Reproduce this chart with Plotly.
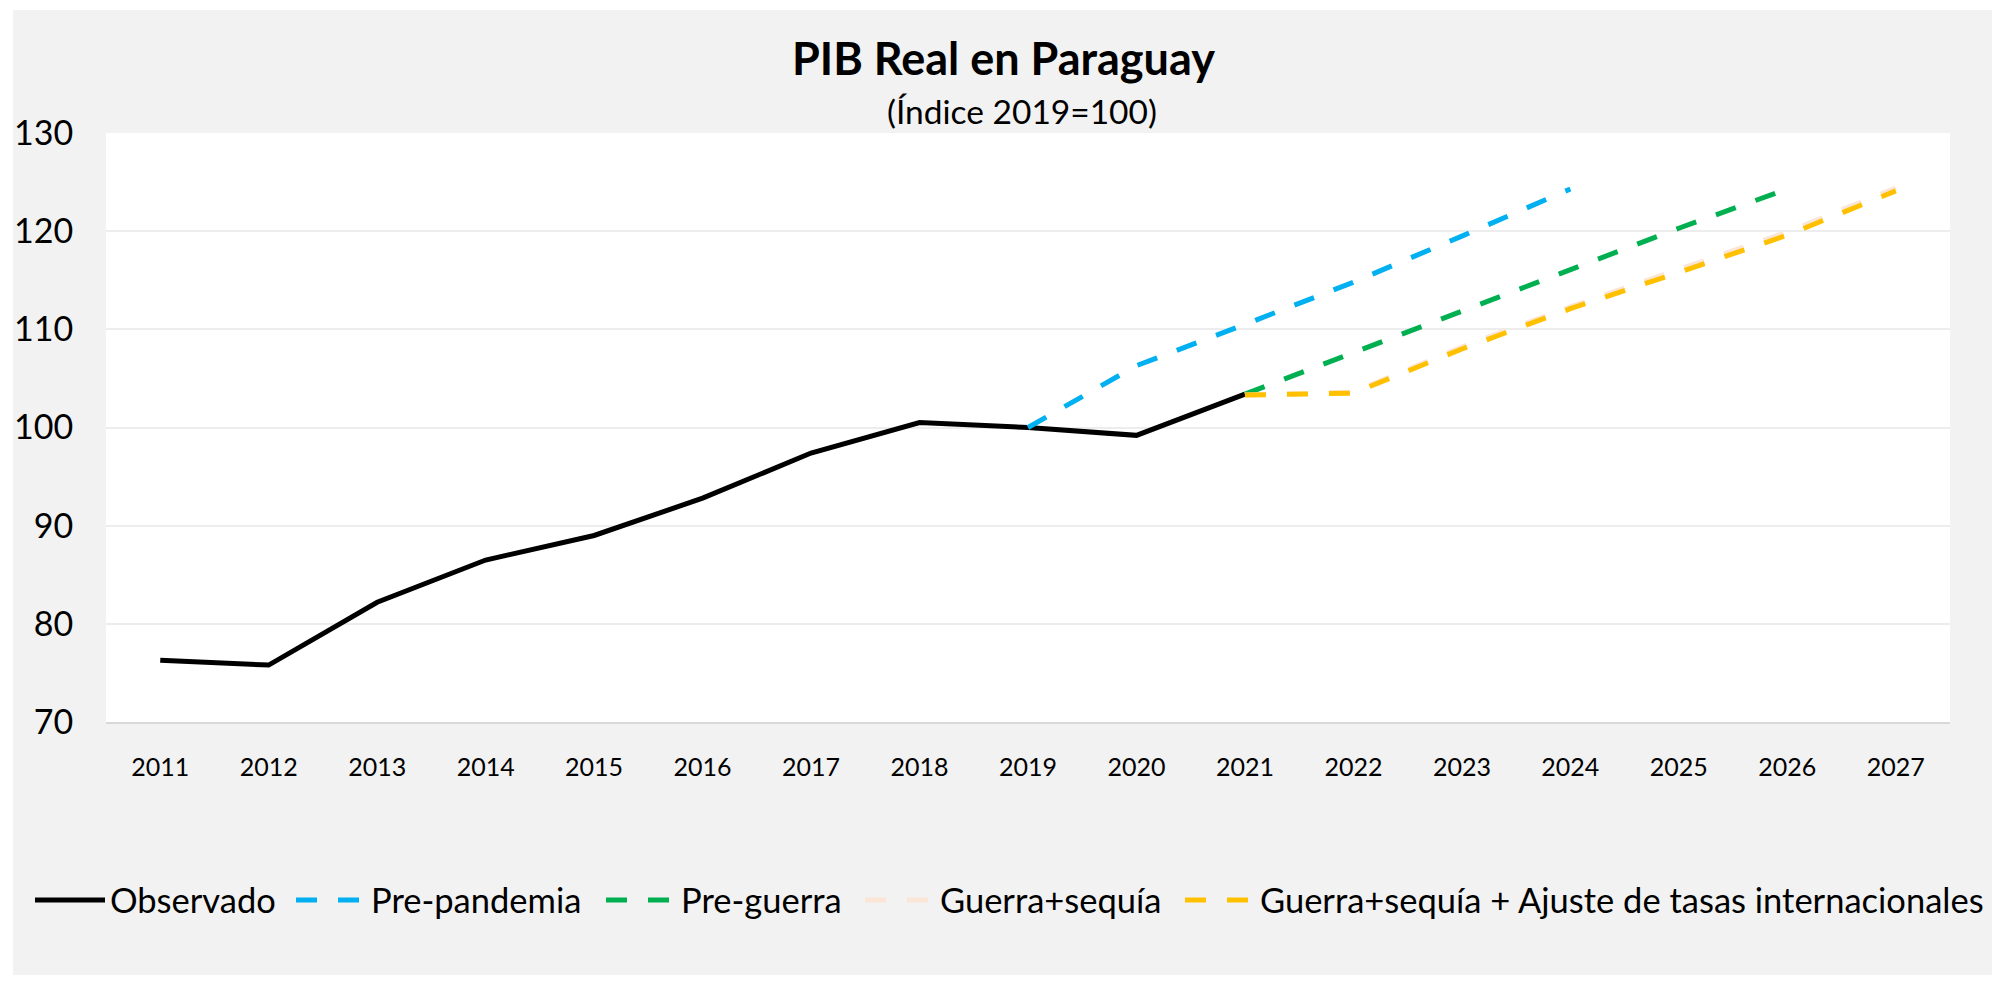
import plotly.graph_objects as go

years = ["2011", "2012", "2013", "2014", "2015", "2016", "2017", "2018", "2019",
         "2020", "2021", "2022", "2023", "2024", "2025", "2026", "2027"]

observado_years = years[0:11]
observado = [76.3, 75.8, 82.2, 86.5, 89.0, 92.8, 97.4, 100.5, 100.0, 99.2, 103.4]

prepandemia_years = years[8:14]
prepandemia = [100.0, 106.3, 110.5, 114.8, 119.5, 124.3]

preguerra_years = years[10:16]
preguerra = [103.4, 107.6, 111.8, 116.0, 120.3, 124.3]

guerra_years = years[10:17]
guerra_sequia = [103.3, 103.6, 108.2, 112.3, 116.1, 119.9, 124.4]

ajuste_years = years[10:17]
guerra_ajuste = [103.3, 103.5, 108.0, 112.1, 115.8, 119.6, 124.1]

y_ticks = [70, 80, 90, 100, 110, 120, 130]

FONT = "Lato"
DASH = "21px,21px"

fig = go.Figure()
fig.add_trace(go.Scatter(x=observado_years, y=observado, mode="lines", name="Observado",
                         legend="legend", line=dict(color="#000000", width=5)))
fig.add_trace(go.Scatter(x=prepandemia_years, y=prepandemia, mode="lines", name="Pre-pandemia",
                         legend="legend2", line=dict(color="#00B0F0", width=5, dash=DASH)))
fig.add_trace(go.Scatter(x=preguerra_years, y=preguerra, mode="lines", name="Pre-guerra",
                         legend="legend3", line=dict(color="#00B050", width=5, dash=DASH)))
fig.add_trace(go.Scatter(x=guerra_years, y=guerra_sequia, mode="lines", name="Guerra+sequía",
                         legend="legend4", line=dict(color="#FBE5D6", width=5, dash=DASH)))
fig.add_trace(go.Scatter(x=ajuste_years, y=guerra_ajuste, mode="lines",
                         name="Guerra+sequía + Ajuste de tasas internacionales",
                         legend="legend5", line=dict(color="#FFC000", width=5, dash=DASH)))

# page has an 8px body margin: figure drawn at screen offset (8, 8)
OFF = 8
W, H = 2005 - OFF, 985 - OFF
# screen-space targets for the plot area
left_s, right_s, top_s, bottom_s = 106, 1950, 133, 722
ml, mt = left_s - OFF, top_s - OFF
mr = W - (right_s - OFF)
mb = H - (bottom_s - OFF)
pw, ph = W - ml - mr, H - mt - mb

def px_x(xs):
    return (xs - OFF - ml) / pw

def px_y(ys):
    return (H - mb - (ys - OFF)) / ph

def legend_at(xs):
    return dict(orientation="h", x=px_x(xs), xanchor="left", y=px_y(900), yanchor="middle",
                font=dict(family=FONT, size=34.5, color="#000000"),
                bgcolor="rgba(0,0,0,0)", itemwidth=70, tracegroupgap=0)

legend_starts = [30, 291, 601, 860, 1180]

fig.update_layout(
    width=W, height=H,
    margin=dict(l=ml, r=mr, t=mt, b=mb, pad=0, autoexpand=False),
    paper_bgcolor="#FFFFFF",
    plot_bgcolor="#FFFFFF",
    font=dict(family=FONT, color="#000000"),
    showlegend=True,
    legend=legend_at(legend_starts[0]),
    legend2=legend_at(legend_starts[1]),
    legend3=legend_at(legend_starts[2]),
    legend4=legend_at(legend_starts[3]),
    legend5=legend_at(legend_starts[4]),
    shapes=[
        dict(type="rect", xref="paper", yref="paper",
             x0=px_x(13), x1=px_x(1992), y0=px_y(975), y1=px_y(10),
             fillcolor="#F2F2F2", line=dict(width=0), layer="below"),
        dict(type="rect", xref="paper", yref="paper",
             x0=0, x1=1, y0=0, y1=1,
             fillcolor="#FFFFFF", line=dict(width=0), layer="below"),
    ],
    annotations=[
        dict(text="<b>PIB Real en Paraguay</b>", xref="paper", yref="paper",
             x=px_x(1003), y=px_y(58), xanchor="center", yanchor="middle", showarrow=False,
             font=dict(family=FONT, size=45, color="#000000")),
        dict(text="(Índice 2019=100)", xref="paper", yref="paper",
             x=px_x(1022), y=px_y(111), xanchor="center", yanchor="middle", showarrow=False,
             font=dict(family=FONT, size=33.5, color="#000000")),
    ],
)

fig.update_xaxes(type="category", categoryorder="array", categoryarray=years,
                 range=[-0.5, len(years) - 0.5], automargin=False,
                 showgrid=False, showline=True, linecolor="#D9D9D9", linewidth=2,
                 ticks="outside", ticklen=22, tickcolor="rgba(0,0,0,0)",
                 tickfont=dict(family=FONT, size=25, color="#000000"),
                 zeroline=False, fixedrange=True)
fig.update_yaxes(range=[70, 130], tickvals=y_ticks, automargin=False,
                 showgrid=True, gridcolor="#EDEDED",
                 gridwidth=1.5, showline=False, zeroline=False,
                 ticks="outside", ticklen=25, tickcolor="rgba(0,0,0,0)",
                 tickfont=dict(family=FONT, size=34, color="#000000"), fixedrange=True)

fig.write_html("out.html")
